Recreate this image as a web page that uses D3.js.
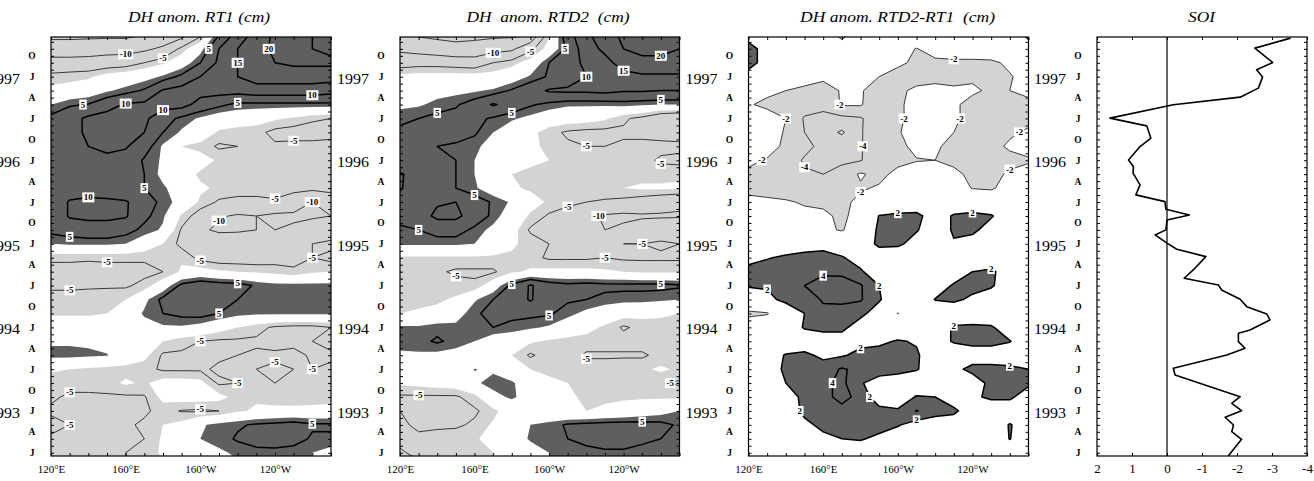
<!DOCTYPE html>
<html>
<head>
<meta charset="utf-8">
<script src="https://cdn.jsdelivr.net/npm/d3@7"></script>
<style>
  body { margin: 0; background: #fff; }
  svg text { font-family: "Liberation Serif", "Times New Roman", serif; }
</style>
</head>
<body>
<svg id="chart" width="1314" height="481"></svg>
<script>
// grid: columns = longitude (deg E), rows = months since Jan 1993, top row first
const lons = [120,130,140,150,160,170,180,190,200,210,220,230,240,250,260,270];
const gridMonths = [60,58,56,54,52,50,48,46,44,42,40,38,36,34,32,30,28,26,24,22,20,18,16,14,12,10,8,6,4,2,0];

// DH anomaly RT1 (cm)
const rt1 = [
  [-16,-16,-16,-16,-16,-15,-14,-12,-6,5,12,17,21,22,20,19],
  [-13,-13,-12.5,-12,-12,-11,-9,-4,1,10,15,18,21,21,20,19],
  [-8,-8,-8,-7.5,-7,-5,-3,0,5,11,15,18,20,21,21,21],
  [-4,-3.5,-3,-1,0,1,3,6,10,13,15,17,17,17,17,17],
  [-1.5,-1,0,2,3.5,5.5,10.5,12,12,12,12,13,13,13,13,12],
  [2.4,4.5,5.2,8,10.5,11,12,12,8,6,4,4,4,4,4,4],
  [6,8,11,12,12,11,7,4,2,0,0,-1,-2,-3,-4.5,-5],
  [6,9,10.5,12,12,10,5,2,0,-3,-4,-4,-6,-6.5,-6.5,-6],
  [7,8.5,10,11,10.5,7,2,-2.5,-3.5,-5.5,-5,-4,-4.5,-4,-4,-4],
  [6,7,8.5,9,8,4.5,2,0,-1,-3,-3,-3,-3.5,-3.5,-3.5,-3.5],
  [7,8,9.5,8,7,5,1.5,-1,-3,-3.5,-4,-4,-3.5,-3,-3,-3],
  [6,7,8,7,6,5,3,0.5,-2,-3,-3.5,-3.5,-3.5,-4,-4,-3],
  [6,10.5,11,11,10.5,7,4,1,-3,-5.5,-6,-6,-5.5,-7,-10,-9],
  [6,10.5,11,11,10.5,6,3,-3,-7,-9.5,-10.5,-10,-11,-11,-10.5,-10],
  [6,7,8,8,6.5,4,2,-5.5,-9,-11,-11,-10,-10,-9,-8,-8],
  [2.5,3,3,3,2.5,0,-2.5,-6,-7,-6,-5,-6,-6,-6,-5,-4],
  [-4.5,-4.5,-4.5,-4.5,-4.5,-4.5,-4,-3,-6,-7,-7,-7,-6.5,-6,-5,-6],
  [-6,-6,-6.5,-6,-6,-6,-5,-2,-1,-2,-2.5,-3,-3.5,-4.5,-3,-2.5],
  [-5.5,-5.5,-5.5,-5.5,-5.5,-4,0,6,8,7,6.5,4.5,3.5,3.5,3.5,3.5],
  [-4,-4,-3.5,-3,-2.5,1.5,6,9.5,10,6.5,5,3.5,3.5,3.5,3.5,3],
  [-3,-3,-3,-2.5,-0.5,3,5,6,6.5,5,3.5,3,3,3,3,3],
  [0,0,0,-0.5,-0.5,1,2,2,1,-1,-2.5,-4,-5.5,-6,-6,-5],
  [2,2,2,1,0,0,-2.5,-4,-5,-5.5,-5.5,-5.5,-6,-6,-5,-4],
  [3.5,3.5,3,2.7,0,-1.5,-5.5,-5.5,-5.5,-5.5,-5,-4.5,-4.5,-4,-5.5,-5.5],
  [-2,-2.5,-3,-3.5,-3.5,-4,-5.5,-5.5,-5.5,-4.5,-4.5,-5,-5.5,-5,-5,-4.5],
  [-4,-4,-4,-3.5,-2,-3,-1,-1,-1.5,-5.5,-5,-4,-5,-3.5,-3,-3],
  [-4.5,-5.5,-5.5,-5.5,-5.5,-5.3,-1.5,-1,-1,-1.5,-3.5,-3,-4,-5,-4.5,-4],
  [-5.5,-5.5,-6,-6,-6,-5.5,-4,-5.2,-5.5,-5,-3,-2,-1.5,-1,-1,-1],
  [-4,-5,-5.5,-6,-5.5,-4.5,-2.5,-1.5,2,3.5,4.5,5.5,6,6.5,5.5,5.5],
  [-5.5,-5.5,-5.5,-5.5,-5.5,-5,-2,-0.5,2.5,3.5,5.5,6.5,7,6.5,4.5,4.5],
  [-5.5,-5.5,-5.5,-5.2,-5,-4,-2,-1,0,2,3,4,4,3.5,2.5,1]
];

// DH anomaly RTD2 (cm)
const rtd2 = [
  [-14,-15.5,-16,-16,-16,-16,-16,-15,-3,8,14,18,21,22,21,20],
  [-11,-12,-13,-14,-13.5,-12,-11,-6,-1,6,13,16,20,21,21,20],
  [-7,-6.5,-6.5,-7,-7.5,-5,-3.5,-1,5,8,11,13.5,17,19,19,19],
  [-1.5,-1,-1,-1,-1,-1,0,3,5.5,7,10,12,13.5,14,14,14],
  [0,0.5,1,1.5,2,3,5.5,8,10.5,11,11,11.5,10.5,10.5,10,10],
  [1.5,2,3.5,4.5,7,10.5,8,5.5,4,3,3,3,3.5,3,2.5,2.5],
  [4.5,5,6,6.5,6,4.5,3,1.5,0,-0.5,-1,-2,-4.5,-6,-9,-10],
  [5.5,6,6.5,6.5,5.5,2.5,0,-1.5,-4,-5.5,-6,-6,-5.5,-6,-6.5,-7],
  [5.5,5.5,5,4.5,3.5,0.5,-1,-2,-3,-4.5,-5,-5,-4.5,-4,-4,-4],
  [6,6,6,5,2.5,0,-1,-2,-2.5,-4,-4,-4,-4,-4,-5.5,-6],
  [10.5,8,6.5,5,2.5,-1,-2.5,-3,-3,-3,-3.5,-3.5,-3.5,-3.5,-3.5,-3],
  [10.5,7,6,5,3,0,-2,-3,-4,-3,-3,-3,-2.5,-2,-2,-2],
  [8,6,9.5,10,7,4.5,2,-1,-3,-4,-5,-5.5,-6,-7,-8,-9],
  [6,8,11,11,8,4,0,-3,-5.5,-7,-9,-10.5,-11,-10.5,-10.5,-10.5],
  [4.5,5,7,7,4,1.5,-1,-5.5,-10,-9,-9,-10,-9,-8,-7,-6],
  [3,3,3,3,2.5,0,-2,-3.5,-5,-6,-6,-5.5,-5,-5,-4.5,-5],
  [-3,-3,-3,-3,-3,-3,-3,-4,-5.5,-5.5,-5.5,-5,-5.5,-5.5,-5.5,-5.5],
  [-3.5,-3.5,-4.5,-5.5,-5.5,-5.5,-3,-2,-1.5,-1.5,-1.5,-2,-2.5,-3,-3,-3],
  [-3,-3,-3,-4,-4.5,0,6,10.5,7,6,6.5,6,6,6,6,5.5],
  [-3.5,-3.5,-3,-2,2,5,7,10.5,6.5,5.5,5,4,3.5,3.5,3,2.5],
  [-2.5,-2,-1.5,0.5,4.5,6,6,6,5.5,3.5,1.5,0,-1,-1.5,-2,-2.5],
  [3,3,4,3.5,3.5,5,4,3,2,0,-1.5,-3,-5.5,-4,-3.5,-3.5],
  [3.5,4,5.5,4,2.5,0,-0.5,-2,-3,-3.5,-3.5,-3.5,-3.5,-3.5,-3,-5],
  [2,2,1.5,1,0,-1,-2.5,-5.5,-3.5,-3.5,-5.5,-5.5,-5.5,-5.5,-4,-3],
  [0,0,0,0,2.6,2,-0.5,-2.5,-3,-3,-3.5,-3.5,-3,-3,-2,-3],
  [-2,-1.5,-1,-0.5,2,3.5,3,0,-2,-2.5,-3,-3,-3.5,-3.5,-4.5,-5.5],
  [-5.5,-5.5,-5.5,-5.5,-3.5,1.5,3,1,-2,-2,-3,-3,-3,-3,-3,-3],
  [-5,-6,-6,-6,-5.5,-3.5,0,0,-1.5,-2.5,-2.5,-2,-1,0,1,2.5],
  [-4.5,-5.5,-5.5,-5.5,-4.5,-2,-0.5,2.5,3.5,5.5,6,6.5,6.5,6.5,6,4.5],
  [-4,-4.5,-4,-3.5,-3,-1,0,3,4,5,6,6.5,6.5,6,5,4],
  [-5.5,-4,-3.5,-3,-3,-2.5,-1,0.5,2.5,3.5,4,4.5,4.5,3.5,3,2.5]
];

// DH anomaly RTD2 - RT1 (cm)
const diff = [
  [0,0,-0.5,-1,-1,-2.5,-1,-0.5,0,0,0,0,0,0,0.5,2.5],
  [3.8,0,0,-0.5,-0.5,-1,-0.5,-0.5,-1,-2.1,-1,-0.5,-0.5,0,0,1],
  [3.8,0,-0.5,-1,-1,-1,-1,-1,-1.5,-2.5,-2.5,-2.5,-2.5,-2.5,-1.5,-0.5],
  [0,-0.5,-1,-1,-1.5,-1.5,-1.5,-2,-3,-3,-3,-3,-2.5,-2.5,-2.2,-1],
  [-1,-1.5,-2,-2.5,-3,-1.8,-1.8,-3,-2.5,-1.5,-1,-1.5,-1.5,-2.5,-2,-1.5],
  [-1.8,-2.5,-2.5,-3,-3.5,-1.8,-1.8,-3.5,-2.5,-1,-0.5,-1.5,-3,-3,-3,-2.5],
  [-0.5,-1,-2,-4.2,-4.5,-4.5,-4.2,-2.8,-2.5,-1,-0.5,-1.5,-3,-3,-3,-3],
  [-0.5,-1,-2.2,-4,-5,-6.3,-4.2,-2.5,-2.2,-1,-0.5,-2,-3,-3,-2.5,-1.5],
  [-0.5,-1,-2.5,-3.5,-4.5,-4.5,-4.2,-2.5,-2.5,-1.5,-1.5,-3,-3,-3,-1.5,-1],
  [-1.5,-2.2,-3,-4.2,-4.5,-4.5,-4.1,-3,-2.5,-2.1,-2,-2.5,-3,-3,-3,-2.3],
  [-2.5,-3,-3,-3.8,-4,-3,-1.8,-2.5,-1.5,-1,-1,-1.5,-2.5,-3,-1.5,-1],
  [-2.5,-3,-3,-3,-3,-2.5,-2.2,-1.8,-1,-0.5,-0.5,-1,-2.1,-2.3,-1,-0.5],
  [-1.5,-1.5,-1.8,-2.2,-2.5,-2.5,-1.5,-0.5,0,0.5,0.5,0.5,0.5,0,0,0],
  [-0.5,-0.5,-1,-1.5,-1.5,-2.5,-1,2.1,2.5,2.5,1,2.2,2.5,2.2,0.5,0],
  [0,0,-0.5,-1,-1.5,-2.2,-0.5,2.5,3,2.2,0.5,2.3,2.5,1,0,0],
  [0,0,0,0.5,1,0.5,0.5,2.5,2.5,1,0.5,1.8,1,0.5,0,0],
  [1,1.8,2.5,3,3,2.2,1,0.5,0,0,0,0,0,0,0,0],
  [3,3.5,3,3.5,3.8,3.5,2.3,0.5,0,0,0,0.5,2,2.5,0.5,0],
  [2.2,2.2,3,4,4.5,5,4.2,2,0,0,0.5,2.3,2.8,2.3,0.5,0],
  [0.5,1.5,2.5,3,4.2,4.5,4.2,2.2,0.5,0,2.1,2.5,1.5,0.5,0,0],
  [-2.5,-2.2,0.5,2,3.5,3,2.5,1,-2.1,0,0,0,0,0,0,0],
  [-0.5,0,0.5,2.2,2.5,2.5,1,0,0,0,0.5,2.3,2.5,2.3,0.5,0],
  [0,0,0,0.5,1,1,1.5,1.5,2.2,1.8,1,2.2,2.5,2.5,2.1,0.5],
  [0,0.5,2.2,2.5,1.5,1.8,2.5,3,3,2.3,0.5,0.5,1,1,0.5,0],
  [0,0.5,2.5,3,3,4.2,3.5,3,2.8,2.2,0.5,1.5,2.5,2.5,2.5,2],
  [0,0.5,2,3,3.5,4.5,2.2,1,0.5,0,0,0.5,1,2.5,3,2.5],
  [0,0,1,2.5,3,5,3,1,0.5,2.2,2,0.5,1.5,2.5,2.5,0.5],
  [0,0,0.5,2.5,3,3,3,2.5,2.3,4.1,3,2.5,0.5,0,0,0],
  [0,0,0.5,1.5,2.5,3,2.5,2.8,2.2,1,0.5,0.5,0,0,2.2,0.5],
  [0,0,0,0.5,1.5,2,2.2,1.5,0.5,0,0,0,0,0,2.1,0],
  [0,0,0,0,0,0,0.5,0.5,0,0,0,0,0,0,0,0]
];

// Southern Oscillation Index (months since Jan 1993)
const soiMonth = [59.54,58.1,56.03,54.99,53.94,52.36,51.06,49.96,48.05,46.94,45.17,43.97,42.05,41.09,40.14,38.46,37.03,36.06,34.97,34.15,33.43,32.0,31.28,30.09,29.22,28.16,26.25,25.06,24.09,23.38,22.04,20.98,19.93,19.07,17.63,17.16,15.95,15.0,14.04,12.13,11.16,9.01,8.05,7.1,6.03,5.09,3.98,3.02,1.93,-0.47];
const soiValue = [-3.53,-2.51,-3.02,-2.56,-2.73,-2.61,-2.09,-0.18,1.63,0.58,0.46,0.77,1.1,0.96,0.97,0.77,0.89,0.06,0.03,-0.64,0,0.03,0.34,0,-0.28,-1.11,-0.75,-0.49,-1.47,-1.56,-2.09,-2.28,-2.85,-2.94,-2.37,-2.04,-2.04,-2.23,-1.71,-0.18,-0.23,-1.51,-2.09,-1.85,-2.13,-1.66,-1.9,-1.85,-2.13,-1.75];

// axis labels
const monthLetters = ['J','A','J','O'];
const labelMonths = [0,3,6,9,12,15,18,21,24,27,30,33,36,39,42,45,48,51,54,57];
const years = ['1993','1994','1995','1996','1997'];
const yearMonths = [6,18,30,42,54];
const lonTicks = [120,160,200,240];
const lonLabels = ['120°E','160°E','160°W','120°W'];
const soiTicks = [2,1,0,-1,-2,-3,-4];

const darkFill = '#5f5f5f', lightFill = '#d3d3d3';
const boxTop = 37, boxBottom = 456;

const svg = d3.select('#chart');
const y = d3.scaleLinear().domain([-0.47, 59.7]).range([boxBottom, boxTop]);

const panels = [
  { id: 'p1', data: rt1, x0: 51, x1: 331, title: 'DH anom. RT1 (cm)', tx: 199, tw: 142,
    fill: 2.5, levels: [5, 10, 15, 20, -5, -10, -15] },
  { id: 'p2', data: rtd2, x0: 400, x1: 679.5, title: 'DH  anom. RTD2  (cm)', tx: 548, tw: 163,
    fill: 2.5, levels: [5, 10, 15, 20, -5, -10, -15] },
  { id: 'p3', data: diff, x0: 748.5, x1: 1028.5, title: 'DH anom. RTD2-RT1  (cm)', tx: 897.5, tw: 195,
    fill: 2, levels: [2, 4, 6, -2, -4, -6] }
];

function addTitle(txt, cx, w) {
  svg.append('text')
    .attr('x', cx).attr('y', 22)
    .attr('text-anchor', 'middle')
    .attr('font-style', 'italic')
    .attr('font-size', 15)
    .attr('textLength', w).attr('lengthAdjust', 'spacingAndGlyphs')
    .style('white-space', 'pre')
    .text(txt);
}

function timeAxes(x0, x1) {
  const allMonths = d3.range(0, 60);
  svg.append('g').attr('transform', `translate(${x0},0)`)
    .call(d3.axisLeft(y).tickValues(allMonths).tickSize(-3).tickFormat(''))
    .call(a => a.select('.domain').remove());
  svg.append('g').attr('transform', `translate(${x1},0)`)
    .call(d3.axisRight(y).tickValues(allMonths).tickSize(-3).tickFormat(''))
    .call(a => a.select('.domain').remove());

  const ml = svg.append('g').attr('transform', `translate(${x0},0)`)
    .call(d3.axisLeft(y).tickValues(labelMonths).tickSize(0)
      .tickFormat(m => monthLetters[(m / 3) % 4]));
  ml.select('.domain').remove();
  ml.selectAll('text')
    .attr('x', -19).attr('text-anchor', 'middle')
    .attr('font-size', 9.5).attr('font-weight', 'bold')
    .attr('font-family', '"Liberation Serif", serif');

  const yl = svg.append('g').attr('transform', `translate(${x0},0)`)
    .call(d3.axisLeft(y).tickValues(yearMonths).tickSize(0)
      .tickFormat((m, i) => years[i]));
  yl.select('.domain').remove();
  yl.selectAll('text')
    .attr('x', -31).attr('dy', '0.45em')
    .attr('font-size', 14)
    .attr('textLength', 32).attr('lengthAdjust', 'spacingAndGlyphs')
    .attr('font-family', '"Liberation Serif", serif');
}

function frame(x0, x1) {
  svg.append('rect')
    .attr('x', x0).attr('y', boxTop)
    .attr('width', x1 - x0).attr('height', boxBottom - boxTop)
    .attr('fill', 'none').attr('stroke', '#000').attr('stroke-width', 1.2);
}

function addLabel(layer, cx, cy, txt) {
  const g = layer.append('g').attr('transform', `translate(${cx},${cy})`);
  const rect = g.append('rect').attr('fill', '#fff');
  const t = g.append('text')
    .attr('text-anchor', 'middle').attr('dy', '0.34em')
    .attr('font-size', 9).attr('font-weight', 'bold')
    .text(txt);
  const w = t.node().getComputedTextLength();
  rect.attr('x', -w / 2 - 1.5).attr('y', -5).attr('width', w + 3).attr('height', 10);
}

panels.forEach(p => {
  const x = d3.scaleLinear().domain([120, 270]).range([p.x0, p.x1]);
  const nx = lons.length, ny = gridMonths.length;
  const dLon = lons[1] - lons[0], dM = gridMonths[0] - gridMonths[1];
  const px = gx => x(lons[0] + (gx - 0.5) * dLon);
  const py = gy => y(gridMonths[0] - (gy - 0.5) * dM);
  const path = d3.geoPath(d3.geoTransform({
    point(a, b) { this.stream.point(px(a), py(b)); }
  }));
  const values = p.data.flat();
  const contours = d3.contours().size([nx, ny]);

  svg.append('clipPath').attr('id', 'clip-' + p.id)
    .append('rect').attr('x', p.x0).attr('y', boxTop)
    .attr('width', p.x1 - p.x0).attr('height', boxBottom - boxTop);

  const g = svg.append('g').attr('clip-path', `url(#clip-${p.id})`);
  g.append('rect').attr('x', p.x0).attr('y', boxTop)
    .attr('width', p.x1 - p.x0).attr('height', boxBottom - boxTop)
    .attr('fill', lightFill);
  g.append('path').attr('d', path(contours.contour(values, -p.fill))).attr('fill', '#fff');
  g.append('path').attr('d', path(contours.contour(values, p.fill))).attr('fill', darkFill);

  const geoms = p.levels.map(l => ({ level: l, geom: contours.contour(values, l) }));
  geoms.forEach(({ level, geom }) => {
    g.append('path').attr('d', path(geom))
      .attr('fill', 'none')
      .attr('stroke', level > 0 ? '#000' : '#3a3a3a')
      .attr('stroke-width', level > 0 ? 1.5 : 1)
      .attr('stroke-linejoin', 'round');
  });

  // contour labels
  const labels = g.append('g');
  const placed = [];
  geoms.forEach(({ level, geom }) => {
    geom.coordinates.forEach(poly => poly.forEach(ring => {
      const pts = ring.map(([a, b]) => [px(a), py(b)]);
      let len = 0;
      for (let i = 1; i < pts.length; i++) len += Math.hypot(pts[i][0] - pts[i - 1][0], pts[i][1] - pts[i - 1][1]);
      if (len < 50) return;
      let acc = 0, next = Math.min(50, len / 3);
      for (let i = 1; i < pts.length; i++) {
        acc += Math.hypot(pts[i][0] - pts[i - 1][0], pts[i][1] - pts[i - 1][1]);
        if (acc < next) continue;
        const [cx, cy] = pts[i];
        if (cx < p.x0 + 9 || cx > p.x1 - 9 || cy < boxTop + 7 || cy > boxBottom - 7) continue;
        if (placed.some(q => Math.hypot(q[0] - cx, q[1] - cy) < 32)) continue;
        placed.push([cx, cy]);
        addLabel(labels, cx, cy, String(level));
        next = acc + 140;
      }
    }));
  });

  // longitude ticks and labels
  svg.append('g').attr('transform', `translate(0,${boxBottom})`)
    .call(d3.axisBottom(x).tickValues(lons).tickSize(-3).tickFormat(''))
    .call(a => a.select('.domain').remove());
  svg.append('g').attr('transform', `translate(0,${boxTop})`)
    .call(d3.axisTop(x).tickValues(lons).tickSize(-3).tickFormat(''))
    .call(a => a.select('.domain').remove());
  const xl = svg.append('g').attr('transform', `translate(0,${boxBottom})`)
    .call(d3.axisBottom(x).tickValues(lonTicks).tickSize(0).tickPadding(9)
      .tickFormat((d, i) => lonLabels[i]));
  xl.select('.domain').remove();
  xl.selectAll('text').attr('font-size', 11).attr('font-family', '"Liberation Serif", serif');

  timeAxes(p.x0, p.x1);
  frame(p.x0, p.x1);
  addTitle(p.title, p.tx, p.tw);
});

// SOI panel
const sx0 = 1097, sx1 = 1307;
const xs = d3.scaleLinear().domain([2, -4]).range([sx0, sx1]);
svg.append('clipPath').attr('id', 'clip-soi')
  .append('rect').attr('x', sx0).attr('y', boxTop)
  .attr('width', sx1 - sx0).attr('height', boxBottom - boxTop);
const sg = svg.append('g').attr('clip-path', 'url(#clip-soi)');
sg.append('line')
  .attr('x1', xs(0)).attr('x2', xs(0)).attr('y1', boxTop).attr('y2', boxBottom)
  .attr('stroke', '#000').attr('stroke-width', 1.2);
sg.append('path')
  .datum(d3.range(soiMonth.length))
  .attr('fill', 'none').attr('stroke', '#000').attr('stroke-width', 1.6)
  .attr('stroke-linejoin', 'round')
  .attr('d', d3.line().x(i => xs(soiValue[i])).y(i => y(soiMonth[i])));

svg.append('g').attr('transform', `translate(0,${boxBottom})`)
  .call(d3.axisBottom(xs).tickValues(soiTicks).tickSize(-3).tickFormat(''))
  .call(a => a.select('.domain').remove());
svg.append('g').attr('transform', `translate(0,${boxTop})`)
  .call(d3.axisTop(xs).tickValues(soiTicks).tickSize(-3).tickFormat(''))
  .call(a => a.select('.domain').remove());
const sxl = svg.append('g').attr('transform', `translate(0,${boxBottom})`)
  .call(d3.axisBottom(xs).tickValues(soiTicks).tickSize(0).tickPadding(8).tickFormat(d => String(d)));
sxl.select('.domain').remove();
sxl.selectAll('text').attr('font-size', 13).attr('font-family', '"Liberation Serif", serif');

timeAxes(sx0, sx1);
frame(sx0, sx1);
addTitle('SOI', 1201.5, 27);
</script>
</body>
</html>
